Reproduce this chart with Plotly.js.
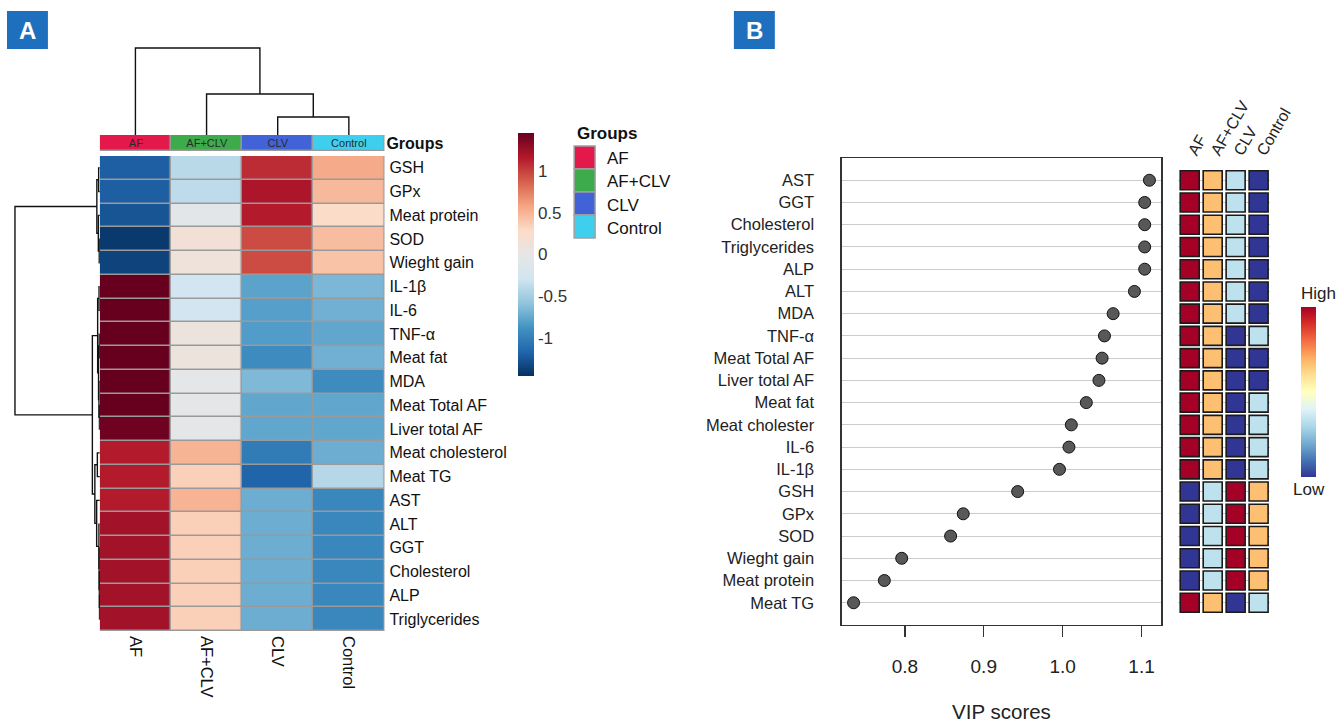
<!DOCTYPE html>
<html><head><meta charset="utf-8">
<script src="https://cdn.plot.ly/plotly-3.0.1.min.js"></script>
<style>html,body{margin:0;padding:0;background:#fff;}#chart{width:1336px;height:725px;}</style>
</head><body><div id="chart"></div><script>
// ---------- DATA ----------
const groups = ['AF', 'AF+CLV', 'CLV', 'Control'];
const features = ['GSH','GPx','Meat protein','SOD','Wieght gain','IL-1β','IL-6','TNF-α','Meat fat','MDA',
  'Meat Total AF','Liver total AF','Meat cholesterol','Meat TG','AST','ALT','GGT','Cholesterol','ALP','Triglycerides'];
const zAF      = [-1.2,-1.2,-1.25,-1.4,-1.35, 1.45,1.45,1.45,1.45,1.45, 1.45,1.42,1.15,1.15,1.15, 1.22,1.22,1.22,1.22,1.22];
const zAFCLV   = [-0.4,-0.38,-0.05,0.15,0.1, -0.28,-0.28,0.08,0.08,-0.02, -0.03,-0.03,0.5,0.35,0.5, 0.35,0.35,0.35,0.35,0.35];
const zCLV     = [1.08,1.18,1.15,0.95,0.95, -0.78,-0.8,-0.82,-0.92,-0.65, -0.76,-0.76,-1.02,-1.17,-0.72, -0.72,-0.72,-0.72,-0.72,-0.72];
const zControl = [0.55,0.47,0.27,0.45,0.42, -0.66,-0.7,-0.76,-0.7,-0.92, -0.76,-0.76,-0.72,-0.42,-0.95, -0.95,-0.95,-0.95,-0.95,-0.95];
// linkage: [childA, childB, height]; leaves 0..n-1, new nodes numbered n, n+1, ...
const colLinkage = [[2,3,1.8],[1,4,4.1],[0,5,8.7]];
const rowLinkage = [[3,4,0.6],[0,1,1.2],[2,20,1.5],[21,22,3],
  [5,6,0.8],[7,8,0.6],[10,11,0.4],[9,26,0.9],[25,27,1.3],[24,28,2.2],
  [12,13,2.5],[18,19,0.3],[17,31,0.5],[16,32,0.7],[15,33,0.9],[14,34,3.2],[30,35,5],
  [29,36,7.5],[23,37,85]];
const vipFeatures = ['AST','GGT','Cholesterol','Triglycerides','ALP','ALT','MDA','TNF-α','Meat Total AF','Liver total AF',
  'Meat fat','Meat cholester','IL-6','IL-1β','GSH','GPx','SOD','Wieght gain','Meat protein','Meat TG'];
const vipScores = [1.110,1.104,1.104,1.104,1.104,1.091,1.064,1.053,1.050,1.046,1.030,1.011,1.008,0.996,0.943,0.874,0.858,0.796,0.774,0.735];
// relative level per group (4 = high ... 1 = low)
const levelAF      = [4,4,4,4,4,4,4,4,4,4,4,4,4,4,1,1,1,1,1,4];
const levelAFCLV   = [3,3,3,3,3,3,3,3,3,3,3,3,3,3,2,2,2,2,2,3];
const levelCLV     = [2,2,2,2,2,2,2,1,1,1,1,1,1,1,4,4,4,4,4,1];
const levelControl = [1,1,1,1,1,1,1,2,1,1,2,2,2,2,3,3,3,3,3,2];
const heatTicks = [-1,-0.5,0,0.5,1];

// ---------- STYLE ----------
const FONT = 'Liberation Sans, Arial, sans-serif';
const groupColors = ['#E3194B','#3DAA4B','#4262D8','#3ECFEF'];
const rdbu = [[0,'#053061'],[0.1,'#2166AC'],[0.2,'#4393C3'],[0.3,'#92C5DE'],[0.4,'#D1E5F0'],[0.5,'#E6E6E6'],
  [0.6,'#FDDBC7'],[0.7,'#F4A582'],[0.8,'#D6604D'],[0.9,'#B2182B'],[1,'#67001F']];
const rdylbu = [[0,'#313695'],[0.1,'#4575B4'],[0.2,'#74ADD1'],[0.3,'#ABD9E9'],[0.4,'#E0F3F8'],[0.5,'#FFFFBF'],
  [0.6,'#FEE090'],[0.7,'#FDAE61'],[0.8,'#F46D43'],[0.9,'#D73027'],[1,'#A50026']];
const W = 1336, H = 725;
const px = v => v / W, py = v => 1 - v / H;

function dendro(linkage, nLeaves) {
  const pos = [...Array(nLeaves).keys()];
  const hts = new Array(nLeaves).fill(0);
  const p = [], h = [];
  linkage.forEach(([a, b, ht]) => {
    p.push(pos[a], pos[a], pos[b], pos[b], null);
    h.push(hts[a], ht, ht, hts[b], null);
    pos.push((pos[a] + pos[b]) / 2); hts.push(ht);
  });
  return {p, h};
}

const nRows = features.length;
const rowIdx = [...Array(nRows).keys()];
const colIdx = [...Array(groups.length).keys()];
const zMatrix = rowIdx.map(i => [zAF[i], zAFCLV[i], zCLV[i], zControl[i]]);

const colD = dendro(colLinkage, groups.length);
const rowD = dendro(rowLinkage, nRows);

const traces = [];
// heatmap A
traces.push({type:'heatmap', x: colIdx, y: rowIdx, z: zMatrix, xaxis:'x', yaxis:'y',
  colorscale: rdbu, zmin:-1.45, zmax:1.45, xgap:1.5, ygap:1.5, hoverinfo:'skip',
  colorbar:{x:px(519), xanchor:'left', xpad:0, ypad:0, thickness:16, len:243/H, y:py(254.5), yanchor:'middle',
    tickvals: heatTicks, ticktext: heatTicks.map(String), ticks:'', outlinewidth:0,
    tickfont:{family:FONT, size:17, color:'#333'}}});
// group annotation bar
traces.push({type:'heatmap', x: colIdx, y:[0], z:[colIdx], text:[groups], texttemplate:'%{text}',
  textfont:{family:FONT, size:11, color:'#2a2a2a'}, xaxis:'x', yaxis:'y4', showscale:false, hoverinfo:'skip',
  colorscale:[[0,groupColors[0]],[1/6,groupColors[0]],[1/6,groupColors[1]],[0.5,groupColors[1]],
    [0.5,groupColors[2]],[5/6,groupColors[2]],[5/6,groupColors[3]],[1,groupColors[3]]],
  zmin:0, zmax:3, xgap:1.5, ygap:1.5});
// column dendrogram
traces.push({type:'scatter', mode:'lines', x: colD.p, y: colD.h, xaxis:'x', yaxis:'y3',
  line:{color:'#111', width:1.4}, hoverinfo:'skip', showlegend:false});
// row dendrogram
traces.push({type:'scatter', mode:'lines', x: rowD.h, y: rowD.p, xaxis:'x2', yaxis:'y',
  line:{color:'#111', width:1.4}, hoverinfo:'skip', showlegend:false});
// VIP dot plot
traces.push({type:'scatter', mode:'markers', x: vipScores, y: vipFeatures.map((_, i) => i), xaxis:'x5', yaxis:'y5',
  marker:{size:12, color:'#585858', line:{color:'#111', width:1}}, showlegend:false, hoverinfo:'x'});
// mini heatmap
const mx = [], my = [], mc = [];
[levelAF, levelAFCLV, levelCLV, levelControl].forEach((arr, j) => arr.forEach((v, i) => { mx.push(j); my.push(i); mc.push(v); }));
traces.push({type:'scatter', mode:'markers', x: mx, y: my, xaxis:'x6', yaxis:'y5', showlegend:false, hoverinfo:'skip',
  marker:{symbol:'square', size:19, color: mc, cmin:1, cmax:4, colorscale: rdylbu, line:{color:'#1a1a1a', width:1.6},
    showscale:true, colorbar:{x:px(1303), xanchor:'left', xpad:0, ypad:0, thickness:15, len:194/H, y:py(380), yanchor:'middle',
      showticklabels:false, ticks:'', outlinewidth:0,
      title:{text:'High', side:'top', font:{family:FONT, size:17, color:'#222'}}}}});

const shapes = [
  {type:'rect', xref:'x', yref:'y', x0:-0.5, x1:3.5, y0:-0.5, y1:nRows-0.5, fillcolor:'#9a9a9a', line:{color:'#9a9a9a', width:1}, layer:'below'},
  {type:'rect', xref:'x', yref:'y4', x0:-0.5, x1:3.5, y0:-0.5, y1:0.5, fillcolor:'#9a9a9a', line:{color:'#9a9a9a', width:1}, layer:'below'},
  {type:'rect', xref:'paper', yref:'paper', x0:px(7), x1:px(48), y0:py(49), y1:py(11), fillcolor:'#1F6FBF', line:{width:0}},
  {type:'rect', xref:'paper', yref:'paper', x0:px(735), x1:px(776), y0:py(49), y1:py(11), fillcolor:'#1F6FBF', line:{width:0}},
];
const ann = (x, y, text, opts) => Object.assign({xref:'paper', yref:'paper', x:px(x), y:py(y), text, showarrow:false,
  xanchor:'center', yanchor:'middle'}, opts);
const annotations = [
  ann(27.5, 30.5, '<b>A</b>', {font:{family:FONT, size:24, color:'#fff'}}),
  ann(755.5, 30.5, '<b>B</b>', {font:{family:FONT, size:24, color:'#fff'}}),
  ann(576, 133, '<b>Groups</b>', {xanchor:'left', font:{family:FONT, size:17, color:'#111'}}),
  ann(1311, 489, 'Low', {font:{family:FONT, size:17, color:'#222'}}),
];
groups.forEach((g, k) => {
  const top = 146 + k * 23;
  shapes.push({type:'rect', xref:'paper', yref:'paper', x0:px(575), x1:px(596), y0:py(top + 23), y1:py(top),
    fillcolor: groupColors[k], line:{color:'#a0a0a0', width:1.5}});
  annotations.push(ann(606, top + 13, g, {xanchor:'left', font:{family:FONT, size:17, color:'#111'}}));
});

const layout = {
  width: W, height: H, margin:{l:0, r:0, t:0, b:0}, paper_bgcolor:'#fff', plot_bgcolor:'rgba(0,0,0,0)',
  font:{family:FONT, color:'#111'}, showlegend:false,
  xaxis:{domain:[px(100), px(385)], range:[-0.5, 3.5], anchor:'y', tickvals: colIdx, ticktext: groups, tickangle:90,
    ticks:'', showgrid:false, zeroline:false, showline:false, ticklabelstandoff:4, tickfont:{family:FONT, size:16.5, color:'#111'}},
  yaxis:{domain:[py(631), py(156)], range:[nRows - 0.5, -0.5], anchor:'x', side:'right', tickvals: rowIdx, ticktext: features,
    ticks:'', showgrid:false, zeroline:false, showline:false, ticklabelstandoff:4, tickfont:{family:FONT, size:16, color:'#111'}},
  xaxis2:{domain:[px(10), px(100)], range:[90, 0], anchor:'y', visible:false},
  yaxis3:{domain:[py(135), py(45)], range:[0, 9], anchor:'x', visible:false},
  yaxis4:{domain:[py(151), py(135)], range:[-0.5, 0.5], anchor:'x', side:'right', tickvals:[0], ticktext:['<b>Groups</b>'],
    ticks:'', showgrid:false, zeroline:false, ticklabelstandoff:1, tickfont:{family:FONT, size:16, color:'#111'}},
  xaxis5:{domain:[px(843), px(1163)], range:[0.72, 1.125], anchor:'y5', tickvals:[0.8, 0.9, 1.0, 1.1], ticktext:['0.8','0.9','1.0','1.1'],
    ticks:'outside', ticklen:11, tickwidth:1.3, tickcolor:'#333', showgrid:false, zeroline:false,
    showline:true, mirror:true, linecolor:'#333', linewidth:1.3, ticklabelstandoff:13,
    tickfont:{family:FONT, size:19, color:'#222'},
    title:{text:'VIP scores', standoff:28, font:{family:FONT, size:20.5, color:'#222'}}},
  yaxis5:{domain:[py(625), py(158)], range:[nRows, -1], anchor:'x5', tickvals: vipFeatures.map((_, i) => i), ticktext: vipFeatures,
    ticks:'', showgrid:true, gridcolor:'#cccccc', gridwidth:1, zeroline:false, showline:true, mirror:true,
    linecolor:'#333', linewidth:1.3, ticklabelstandoff:23, tickfont:{family:FONT, size:16.5, color:'#222'}},
  xaxis6:{domain:[px(1180), px(1272)], range:[-0.5, 3.5], anchor:'free', position: py(166), side:'top',
    tickvals: colIdx, ticktext: groups, tickangle:-60, ticks:'', showgrid:false, zeroline:false, showline:false,
    ticklabelstandoff:2, tickfont:{family:FONT, size:16, color:'#222'}},
  shapes, annotations
};
Plotly.newPlot('chart', traces, layout, {displayModeBar:false, staticPlot:true});
</script></body></html>
